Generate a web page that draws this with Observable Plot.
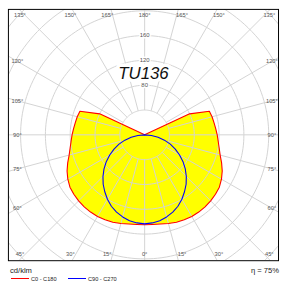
<!DOCTYPE html>
<html><head><meta charset="utf-8">
<script src="https://cdn.jsdelivr.net/npm/d3@7"></script>
<script src="https://cdn.jsdelivr.net/npm/@observablehq/plot@0.6"></script>
<style>
html,body{margin:0;padding:0;background:#fff;overflow:hidden;width:281px;height:282px}
#chart{position:relative;height:265px;overflow:hidden;width:281px}
#chart svg{display:block}
#foot{position:relative;width:281px;height:17px;font-family:"Liberation Sans",Arial,sans-serif;color:#222}
#foot .t{position:absolute;font-size:7.6px;line-height:8px;white-space:nowrap;color:#222}
#foot .lg{position:absolute;font-size:5.6px;line-height:6px;white-space:nowrap;display:flex;align-items:center;color:#222}
#foot .sw{display:inline-block;width:18px;height:1px;margin-right:2px}
</style></head><body>
<div id="chart"></div>
<div id="foot"></div>
<script>
const title = "TU136";
const unitLabel = "cd/klm";
const effLabel = "η = 75%";
const gammas = [0,5,10,15,20,25,30,35,40,45,50,55,60,65,70,75,80,85,90,95,100,105,110,115,120,125,130,135,140,145,150,155,160,165,170,175,180];
const c0c180 = [145,145,146,148,150,151,152,152,151.5,150.5,149,147,143,138,132,126,122,119,117,115,113.5,112.5,111,80,0,0,0,0,0,0,0,0,0,0,0,0,0];
const c90c270 = [143.5,142.5,140.5,137,132.5,127,120,112,104,95,85.5,75.5,65,54.5,44,33,22,11,0,0,0,0,0,0,0,0,0,0,0,0,0,0,0,0,0,0,0];
const seriesNames = ["C0 - C180", "C90 - C270"];
const seriesColors = ["#ff0000", "#0000ff"];
const ringValues = [40,80,120,160,200,240,280,320];
const ringLabels = [80,120,160];
const angleTicks = [0,15,30,45,60,75,90,105,120,135,150,165,180];

const rad = Math.PI/180;
const pt = (g, I, s) => ({x: s*I*Math.sin(g*rad), y: -I*Math.cos(g*rad)});
function loop(vals){
  const right = gammas.map((g,i)=>pt(g, vals[i], 1));
  const left = gammas.map((g,i)=>pt(g, vals[i], -1)).reverse();
  return right.concat(left);
}
const red = loop(c0c180), blue = loop(c90c270);

const rings = [];
for (const R of ringValues) for (let a=0;a<=360;a+=2) rings.push({R, ...pt(a, R, 1)});
const radials = [];
for (let a=0;a<360;a+=15) { const p1=pt(a,40,1), p2=pt(a,420,1); radials.push({x1:p1.x,y1:p1.y,x2:p2.x,y2:p2.y}); }

const k = 0.627, HX = 128.6/k, HY = 120.5/k, W = 5.5/k;
const aLabels = [];
for (const g of angleTicks) for (const s of (g===0||g===180)?[1]:[-1,1]) {
  const d = pt(g, 1, s);
  const tx = Math.abs(d.x)>1e-9 ? HX/Math.abs(d.x) : Infinity;
  const ty = Math.abs(d.y)>1e-9 ? HY/Math.abs(d.y) : Infinity;
  let x, y;
  if (ty <= tx) { x = d.x*ty; y = d.y*ty; if (g!==0&&g!==180) x = Math.max(-HX, Math.min(HX, x + s*W)); }
  else { x = d.x*tx; y = d.y*tx; }
  aLabels.push({x, y, text: g + "°"});
}

const lab = {fontFamily:"Liberation Sans, Arial, sans-serif", fill:"#555"};
const chart = Plot.plot({
  width: 284, height: 265,
  marginLeft: 8, marginRight: 3, marginTop: 9, marginBottom: 2,
  x: {domain: [-219.6, 215.8], axis: null},
  y: {domain: [-202.9, 202.2], axis: null},
  style: {background: "#fff", overflow: "visible"},
  marks: [
    Plot.line(red, {x:"x", y:"y", fill:"#ffff00", stroke:"none"}),
    Plot.line(rings, {x:"x", y:"y", z:"R", stroke:"#d3d3d3", strokeWidth:1, clip:true}),
    Plot.link(radials, {x1:"x1", y1:"y1", x2:"x2", y2:"y2", stroke:"#d3d3d3", strokeWidth:1, clip:true}),
    Plot.line(red, {x:"x", y:"y", stroke:seriesColors[0], strokeWidth:1.1}),
    Plot.line(blue, {x:"x", y:"y", stroke:seriesColors[1], strokeWidth:1.1}),
    Plot.text([title], {frameAnchor:"top", lineAnchor:"top", dy:58.4, text: d=>d, fontSize:16.5, fontStyle:"italic", fontFamily:"Liberation Sans, Arial, sans-serif", fill:"#111", stroke:"white", strokeWidth:7}),
    Plot.text(ringLabels, {x: d=>pt(180,d,1).x, y: d=>pt(180,d,1).y, text: d=>String(d), fontSize:6, stroke:"white", strokeWidth:3, ...lab}),
    Plot.text(aLabels, {x:"x", y:"y", text:"text", fontSize:5.8, ...lab}),
    Plot.frame({stroke:"#000", strokeWidth:1})
  ]
});
document.getElementById("chart").append(chart);
d3.select(chart).selectAll("text").filter(function(){ return this.textContent === title; })
  .attr("textLength", 51).attr("lengthAdjust", "spacingAndGlyphs");

const foot = document.getElementById("foot");
foot.innerHTML =
  `<span class="t" style="left:10px;top:2px">${unitLabel}</span>` +
  `<span class="t" style="right:2px;top:2px">${effLabel}</span>` +
  `<span class="lg" style="left:11px;top:10.5px"><span class="sw" style="background:${seriesColors[0]}"></span>${seriesNames[0]}</span>` +
  `<span class="lg" style="left:68px;top:10.5px"><span class="sw" style="background:${seriesColors[1]}"></span>${seriesNames[1]}</span>`;
</script>
</body></html>
